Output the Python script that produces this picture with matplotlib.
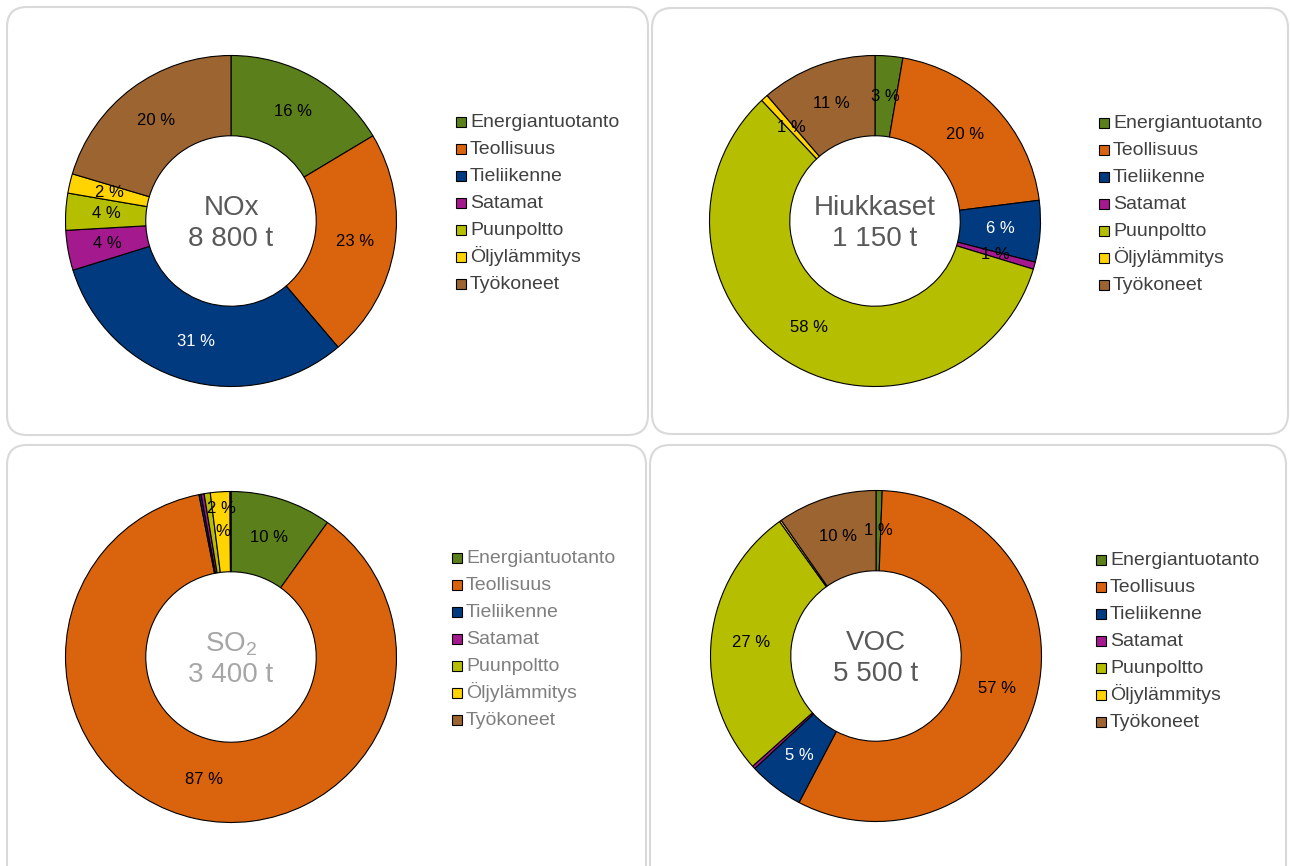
import numpy as np
import matplotlib
matplotlib.use('Agg')
import matplotlib.pyplot as plt
from matplotlib.patches import FancyBboxPatch, Rectangle

plt.rcParams['font.family'] = ['Liberation Sans', 'DejaVu Sans']

# data
categories = ['Energiantuotanto', 'Teollisuus', 'Tieliikenne', 'Satamat',
              'Puunpoltto', 'Öljylämmitys', 'Työkoneet']
colors = ['#5b7f1b', '#da640e', '#023a80', '#a5198f', '#b6be00', '#ffd400', '#9c6431']

nox_values = [16.4, 22.4, 31.4, 3.9, 3.6, 1.9, 20.4]
nox_labels = ['16 %', '23 %', '31 %', '4 %', '4 %', '2 %', '20 %']

pm_values = [2.7, 20.3, 6.0, 0.7, 58.3, 0.7, 11.3]
pm_labels = ['3 %', '20 %', '6 %', '1 %', '58 %', '1 %', '11 %']

so2_values = [9.9, 87.0, 0.2, 0.3, 0.6, 1.9, 0.1]
so2_labels = ['10 %', '87 %', '', '', '%', '2 %', '']

voc_values = [0.6, 57.1, 5.4, 0.3, 26.7, 0.2, 9.7]
voc_labels = ['1 %', '57 %', '5 %', '', '27 %', '', '10 %']

W, H = 1290, 866
fig = plt.figure(figsize=(W / 100, H / 100), dpi=100)
bg = fig.add_axes([0, 0, 1, 1])
bg.set_xlim(0, W)
bg.set_ylim(H, 0)
bg.axis('off')

# panel frames
for x0, y0, x1, y1 in [(7, 7, 648, 435), (652, 8, 1288, 434),
                       (7, 445, 646, 890), (650, 445, 1286, 890)]:
    bg.add_patch(FancyBboxPatch((x0, y0), x1 - x0, y1 - y0,
                                boxstyle='round,pad=0,rounding_size=20',
                                fc='white', ec='#d9d9d9', lw=1.5))

R = 165.5
ROW = 27


def donut(cx, cy, values, labels, title, total, leg_x, leg_y,
          title_color='#595959', leg_color='#404040'):
    ax = fig.add_axes([(cx - R) / W, 1 - (cy + R) / H, 2 * R / W, 2 * R / H])
    wedges, _ = ax.pie(values, colors=colors, startangle=90, counterclock=False,
                       wedgeprops=dict(width=0.485, edgecolor='black', linewidth=0.8))
    for w in wedges:
        w.set_clip_on(False)
    ax.set_xlim(-1, 1)
    ax.set_ylim(-1, 1)

    for i, (w, lab) in enumerate(zip(wedges, labels)):
        if not lab:
            continue
        mid = (w.theta1 + w.theta2) / 2
        r = 0.757
        if title.startswith('SO') and i == 5:
            r = 0.9
        if title.startswith('SO') and i == 4:
            # the wrapped "%" sits under the Öljylämmitys label
            w5 = wedges[5]
            mid = (w5.theta1 + w5.theta2) / 2
        ang = np.deg2rad(mid)
        col = 'white' if i == 2 else 'black'
        ax.text(r * np.cos(ang), r * np.sin(ang), lab, ha='center', va='center',
                fontsize=12, color=col)

    ax.text(0, 0.08, title, ha='center', va='center', fontsize=20, color=title_color)
    ax.text(0, -0.11, total, ha='center', va='center', fontsize=20, color=title_color)

    # legend, drawn row by row so the spacing stays even
    for i, (name, w) in enumerate(zip(categories, wedges)):
        base = leg_y + i * ROW
        bg.add_patch(Rectangle((leg_x, base - 10), 10, 10, fc=w.get_facecolor(),
                               ec='black', lw=0.8))
        bg.text(leg_x + 14, base, name, va='baseline', ha='left', fontsize=14,
                color=leg_color)
    return ax


donut(231, 221, nox_values, nox_labels, 'NOx', '8 800 t', 456, 127)
donut(875, 221, pm_values, pm_labels, 'Hiukkaset', '1 150 t', 1099, 128)
donut(231, 657, so2_values, so2_labels, 'SO$_\\mathregular{2}$', '3 400 t', 452, 563,
      title_color='#a6a6a6', leg_color='#7f7f7f')
donut(876, 656, voc_values, voc_labels, 'VOC', '5 500 t', 1096, 565)

fig.savefig('out.png', dpi=100)
